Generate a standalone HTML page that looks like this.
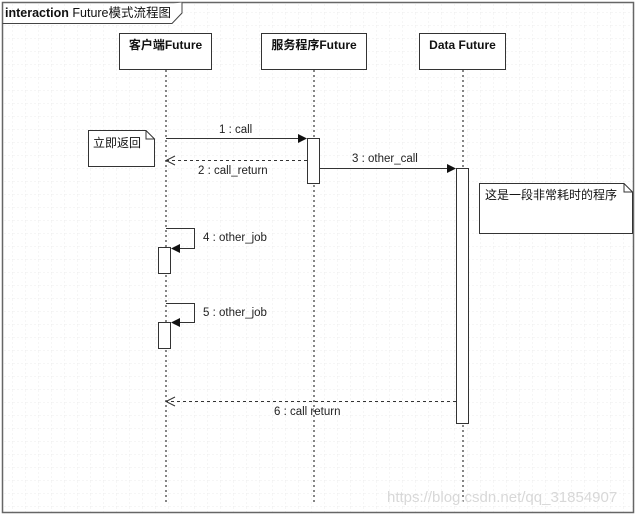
<!DOCTYPE html>
<html><head><meta charset="utf-8"><style>
body{margin:0;background:#fff;}
svg{display:block;font-family:"Liberation Sans","Noto Sans CJK SC",sans-serif;}
</style></head><body>
<svg width="640" height="515" viewBox="0 0 640 515" xmlns="http://www.w3.org/2000/svg">
<defs>
<pattern id="g" width="13" height="13" patternUnits="userSpaceOnUse">
<path d="M13 0V13M0 13H13" stroke="#ececec" stroke-width="1" stroke-dasharray="2,2" fill="none"/>
</pattern>
</defs>
<rect x="0" y="0" width="640" height="515" fill="#fff"/>
<rect x="3" y="3" width="631" height="509" fill="url(#g)"/>
<rect x="2.5" y="2.5" width="631" height="510" fill="none" stroke="#666" stroke-width="1.5"/>
<path d="M2.5 23.5H172L182 13V2.5" fill="#fff" stroke="#444" stroke-width="1"/>
<text x="5" y="17" font-size="12.5" fill="#111"><tspan font-weight="bold">interaction</tspan> Future模式流程图</text>

<!-- lifelines -->
<g stroke="#444" stroke-width="1.3" stroke-dasharray="2,3">
<line x1="166" y1="70" x2="166" y2="505"/>
<line x1="314" y1="70" x2="314" y2="503"/>
<line x1="463" y1="70" x2="463" y2="503"/>
</g>
<!-- headers -->
<g fill="#fff" stroke="#333" stroke-width="1">
<rect x="119.5" y="33.5" width="92" height="36"/>
<rect x="261.5" y="33.5" width="105" height="36"/>
<rect x="419.5" y="33.5" width="86" height="36"/>
</g>
<g font-size="12" font-weight="bold" text-anchor="middle" fill="#111">
<text x="165.5" y="49">客户端Future</text>
<text x="314" y="49">服务程序Future</text>
<text x="462.5" y="49">Data Future</text>
</g>

<!-- notes -->
<path d="M88.5 130.5H146L154.5 139V166.5H88.5Z M146 130.5V139H154.5" fill="#fff" stroke="#333"/>
<text x="93" y="147" font-size="12" fill="#111">立即返回</text>
<path d="M479.5 183.5H624L632.5 192V233.5H479.5Z M624 183.5V192H632.5" fill="#fff" stroke="#333"/>
<text x="485" y="199" font-size="12" fill="#111">这是一段非常耗时的程序</text>

<!-- activations -->
<g fill="#fff" stroke="#333" stroke-width="1">
<rect x="307.5" y="138.5" width="12" height="45"/>
<rect x="456.5" y="168.5" width="12" height="255"/>
<rect x="158.5" y="247.5" width="12" height="26"/>
<rect x="158.5" y="322.5" width="12" height="26"/>
</g>

<!-- messages -->
<g stroke="#333" stroke-width="1" fill="none">
<line x1="166" y1="138.5" x2="300" y2="138.5"/>
<line x1="320" y1="168.5" x2="449" y2="168.5"/>
<path d="M166 228.5H194.5V248.5H178"/>
<path d="M166 303.5H194.5V322.5H178"/>
<g stroke-dasharray="3,3">
<line x1="307" y1="160.5" x2="167" y2="160.5"/>
<line x1="456" y1="401.5" x2="167" y2="401.5"/>
</g>
<path d="M175 156L166 160.5L175 165"/>
<path d="M175 397L166 401.5L175 406"/>
</g>
<g fill="#111">
<path d="M298 134L307 138.5L298 143Z"/>
<path d="M447 164L456 168.5L447 173Z"/>
<path d="M180 244L171 248.5L180 253Z"/>
<path d="M180 318L171 322.5L180 327Z"/>
</g>
<g font-size="11.5" fill="#222">
<text x="219" y="133">1 : call</text>
<text x="198" y="174">2 : call_return</text>
<text x="352" y="162">3 : other_call</text>
<text x="203" y="241">4 : other_job</text>
<text x="203" y="316">5 : other_job</text>
<text x="274" y="415">6 : call return</text>
</g>
<text x="387" y="502" font-size="15" fill="#d8d8d8">https://blog.csdn.net/qq_31854907</text>
</svg>
</body></html>
